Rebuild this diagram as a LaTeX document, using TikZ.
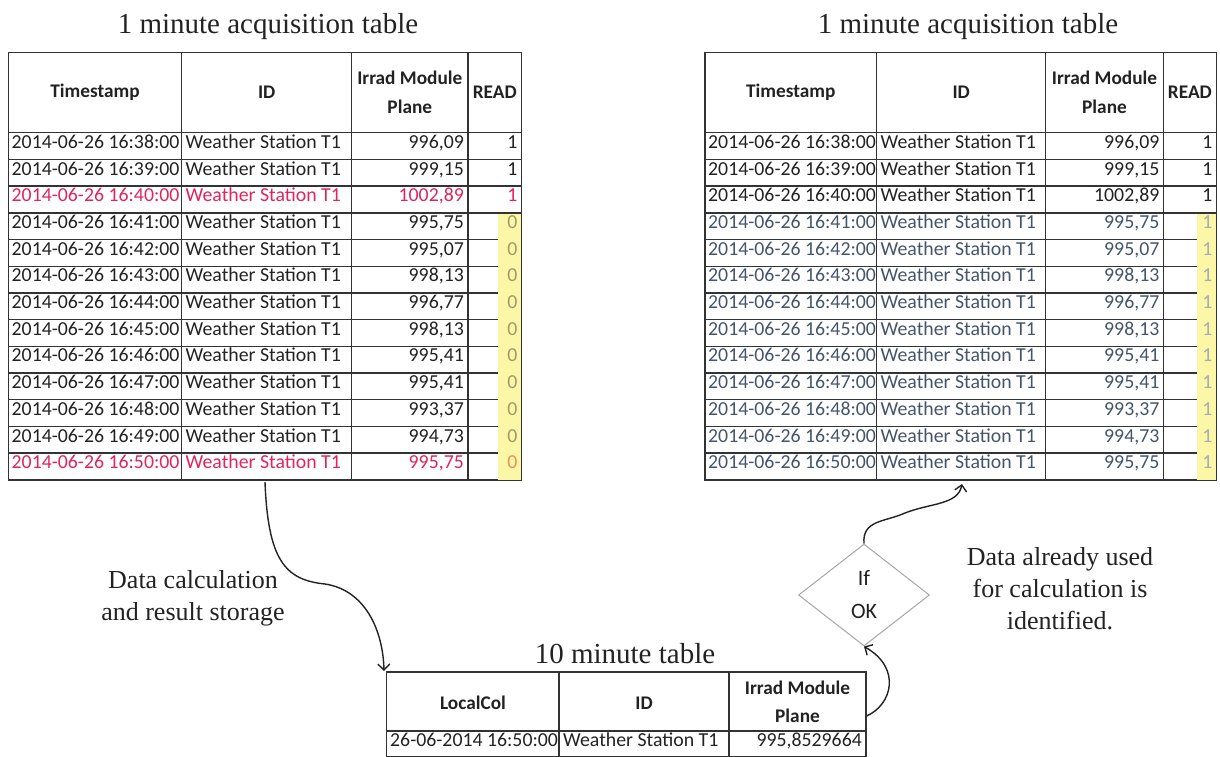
\documentclass[tikz,border=0pt]{standalone}
\usepackage{fontspec}
\setmainfont{Liberation Serif}
\newfontfamily\cellfont{Carlito}
\usetikzlibrary{arrows.meta,shapes.geometric}
\definecolor{ink}{HTML}{222222}
\definecolor{gridc}{HTML}{333333}
\definecolor{hot}{HTML}{E1245A}
\definecolor{slate}{HTML}{44546A}
\definecolor{marker}{HTML}{FBF7A6}
\definecolor{oldread}{HTML}{9C9C6A}
\definecolor{oldhot}{HTML}{E8905A}
\definecolor{newread}{HTML}{A7ABB3}
\begin{document}
\begin{tikzpicture}[x=1pt,y=-1pt,
  grid/.style={draw=gridc,line width=1.4pt},
  cell/.style={font=\cellfont\fontsize{19.8}{22}\selectfont,text=ink,inner sep=0pt},
  head/.style={font=\cellfont\bfseries\fontsize{19.3}{28.5}\selectfont,text=ink,inner sep=0pt,align=center},
  title/.style={font=\fontsize{29}{32}\selectfont,text=ink,inner sep=0pt,anchor=base},
  note/.style={font=\fontsize{26}{32}\selectfont,text=ink,align=center,inner sep=0pt},
  flow/.style={draw=ink,line width=1.4pt,-{Straight Barb[length=6pt,width=12pt]}},
  decision/.style={diamond,draw=gray!70,line width=1pt,minimum width=131pt,minimum height=102pt,
    inner sep=0pt,font=\cellfont\fontsize{22}{33}\selectfont,align=center,text=ink}]
\useasboundingbox (0,0) rectangle (1220,756);

% ---------- titles ----------
\node[title] (L-title) at (268,33) {1 minute acquisition table};
\node[title] (R-title) at (968,33) {1 minute acquisition table};
\node[title] (T-title) at (625,663) {10 minute table};

% ---------- left acquisition table ----------
\draw[grid] (8.3,52.3) rectangle (521.7,480);
\foreach \x in {181.7,351.7,468} \draw[grid] (\x,52.3) -- (\x,480);
\foreach \k in {0,...,12} \draw[grid] (8.3,132.7+\k*26.7) -- (521.7,132.7+\k*26.7);
\fill[marker] (498,214) rectangle (522,480);
\draw[grid] (521.7,213.3) -- (521.7,480);

\node[head] (L-ts) at (95,92.5) {Timestamp};
\node[head] (L-id) at (266.7,92.5) {ID};
\node[head] (L-ir) at (409.8,92.5) {Irrad Module\\Plane};
\node[head] (L-rd) at (494.8,92.5) {READ};

\foreach \m/\v/\c/\rc/\r [count=\i] in {
  38/996{,}09/ink/ink/1, 39/999{,}15/ink/ink/1, 40/1002{,}89/hot/hot/1,
  41/995{,}75/ink/oldread/0, 42/995{,}07/ink/oldread/0, 43/998{,}13/ink/oldread/0,
  44/996{,}77/ink/oldread/0, 45/998{,}13/ink/oldread/0, 46/995{,}41/ink/oldread/0,
  47/995{,}41/ink/oldread/0, 48/993{,}37/ink/oldread/0, 49/994{,}73/ink/oldread/0,
  50/995{,}75/hot/oldhot/0} {
  \pgfmathsetmacro\yc{132.7+(\i-0.5)*26.7}
  \node[cell,anchor=mid west,text=\c] (L-t\i) at (11.5,\yc) {2014-06-26 16:\m:00};
  \node[cell,anchor=mid west,text=\c] (L-n\i) at (185.5,\yc) {Weather Station T1};
  \node[cell,anchor=mid east,text=\c] (L-v\i) at (464,\yc) {\v};
  \node[cell,anchor=mid east,text=\rc] (L-r\i) at (517.5,\yc) {\r};
}

% ---------- right acquisition table ----------
\draw[grid] (705,52.3) rectangle (1216.5,480);
\foreach \x in {876.7,1045.7,1163.3} \draw[grid] (\x,52.3) -- (\x,480);
\foreach \k in {0,...,12} \draw[grid] (705,132.7+\k*26.7) -- (1216.5,132.7+\k*26.7);
\fill[marker] (1197,214) rectangle (1217,480);
\draw[grid] (1216.5,213.3) -- (1216.5,480);

\node[head] (R-ts) at (790.8,92.5) {Timestamp};
\node[head] (R-id) at (961.2,92.5) {ID};
\node[head] (R-ir) at (1104.5,92.5) {Irrad Module\\Plane};
\node[head] (R-rd) at (1189.9,92.5) {READ};

\foreach \m/\v/\c/\rc [count=\i] in {
  38/996{,}09/ink/ink, 39/999{,}15/ink/ink, 40/1002{,}89/ink/ink,
  41/995{,}75/slate/newread, 42/995{,}07/slate/newread, 43/998{,}13/slate/newread,
  44/996{,}77/slate/newread, 45/998{,}13/slate/newread, 46/995{,}41/slate/newread,
  47/995{,}41/slate/newread, 48/993{,}37/slate/newread, 49/994{,}73/slate/newread,
  50/995{,}75/slate/newread} {
  \pgfmathsetmacro\yc{132.7+(\i-0.5)*26.7}
  \node[cell,anchor=mid west,text=\c] (R-t\i) at (708,\yc) {2014-06-26 16:\m:00};
  \node[cell,anchor=mid west,text=\c] (R-n\i) at (880.5,\yc) {Weather Station T1};
  \node[cell,anchor=mid east,text=\c] (R-v\i) at (1159.5,\yc) {\v};
  \node[cell,anchor=mid east,text=\rc] (R-r\i) at (1212.5,\yc) {1};
}

% ---------- 10 minute table ----------
\draw[grid] (386.7,672) rectangle (866,757);
\foreach \x in {559,729} \draw[grid] (\x,672) -- (\x,757);
\draw[grid] (386.7,731) -- (866,731);
\node[head] (T-lc) at (473,703) {LocalCol};
\node[head] (T-id) at (644,703) {ID};
\node[head] (T-ir) at (797.5,702) {Irrad Module\\Plane};
\node[cell,anchor=mid west] (T-t1) at (390,744) {26-06-2014 16:50:00};
\node[cell,anchor=mid west] (T-n1) at (563,744) {Weather Station T1};
\node[cell,anchor=mid east] (T-v1) at (862,744) {995{,}8529664};

% ---------- labels ----------
\node[note] (calc) at (193,598) {Data calculation\\and result storage};
\node[note] (used) at (1060,589) {Data already used\\for calculation is\\identified.};

% ---------- decision and connectors ----------
\node[decision] (check) at (864,595) {If\\OK};

\coordinate (L-out) at (265,482);
\coordinate (T-in) at (384,671);
\coordinate (T-out) at (866.5,716);
\coordinate (R-in) at (962,484);

\draw[flow] (L-out) .. controls (268,560) and (285,580) .. (325,584)
  .. controls (365,590) and (383,630) .. (T-in);
\draw[flow] (T-out) .. controls (892,705) and (902,668) .. (check.south);
\draw[flow] (check.north) .. controls (862,520) and (885,522) .. (905,513)
  .. controls (930,503) and (958,505) .. (R-in);
\end{tikzpicture}
\end{document}
